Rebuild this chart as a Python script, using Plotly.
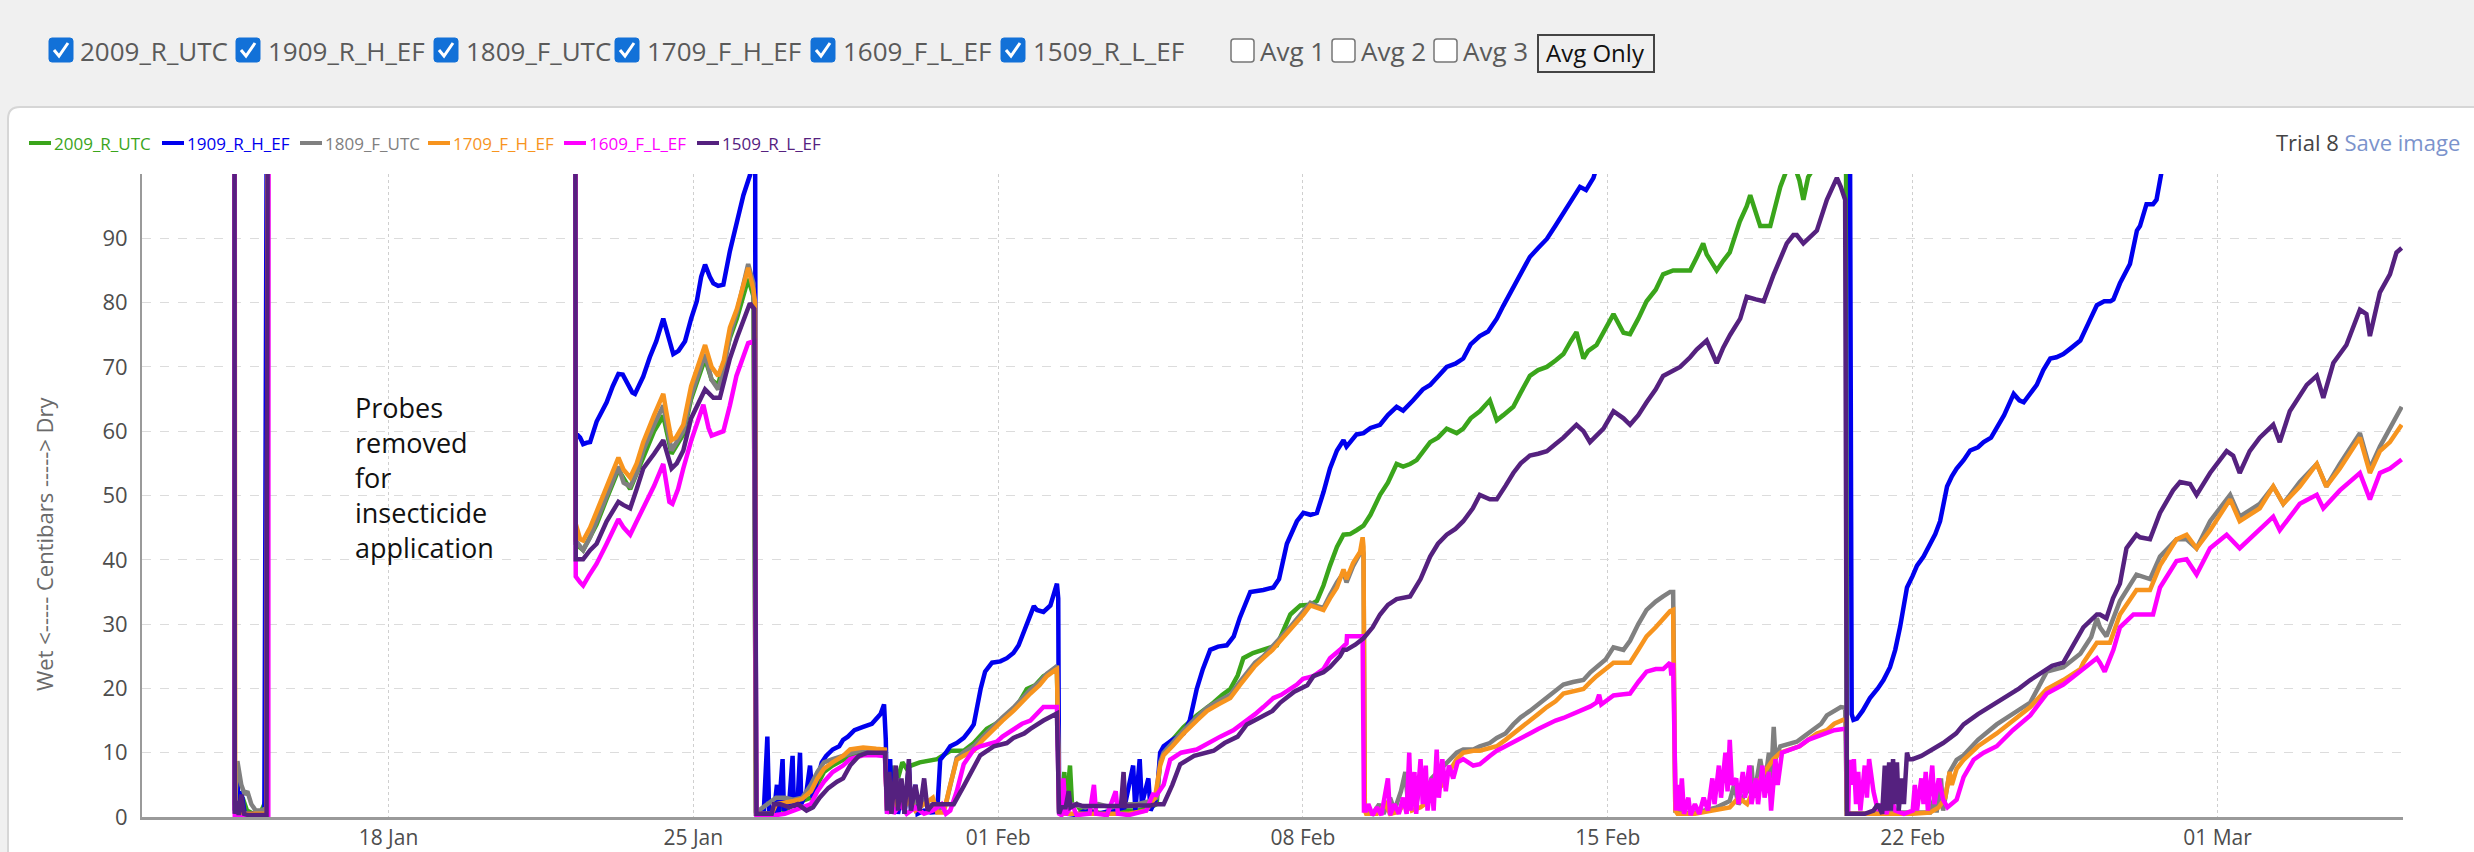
import pandas as pd
import plotly.graph_objects as go

W, H = 2474, 852
BASE = pd.Timestamp("2025-01-01")

# readings as (day counted from 1 Jan, centibars); values above 100 are off-scale (probe out of soil)
s2009 = [(14.46, 199), (14.47, 2), (14.55, 1), (14.65, 3), (14.75, 1), (14.9, 0.5), (15.05, 0.5), (15.15, 2), (15.22, 3.5), (15.25, 199),
         (22.28, 199), (22.30, 42.5), (22.47, 41.5), (22.63, 43.5), (22.78, 45.5), (23.01, 49.5), (23.28, 54), (23.55, 51), (23.85, 56),
         (24.1, 60), (24.31, 62.4), (24.50, 56.5), (24.77, 59.5), (24.95, 65), (25.27, 71.3), (25.42, 68), (25.57, 67.2), (25.84, 74.5),
         (26.0, 77.5), (26.26, 83.7), (26.38, 81), (26.44, 1),
         (26.50, 1), (26.7, 0.5), (26.9, 1.5), (27.1, 1), (27.3, 2), (27.5, 2.5), (27.7, 3), (27.85, 5), (28.0, 7), (28.2, 8), (28.44, 9),
         (28.6, 9.5), (28.9, 10), (29.2, 10.5), (29.4, 10.5), (29.45, 3), (29.55, 8), (29.6, 2), (29.7, 6), (29.8, 8.5), (29.9, 7.5),
         (30.0, 8), (30.2, 8.5), (30.4, 8.8), (30.6, 9), (30.9, 10.3), (31.21, 10.3), (31.44, 11.5), (31.74, 13.7), (31.95, 14.5),
         (32.2, 15.8), (32.45, 17.5), (32.66, 19.9), (32.85, 20.5), (33.04, 21.9), (33.2, 22.5), (33.35, 23.3), (33.40, 1),
         (33.45, 1), (33.52, 7), (33.56, 1), (33.65, 8), (33.7, 1.5), (33.8, 2), (33.9, 1), (34.1, 1), (34.4, 0.5), (34.8, 1), (35.2, 1),
         (35.5, 1.5), (35.64, 2), (35.72, 9), (35.80, 10.3), (36.0, 12), (36.26, 14), (36.56, 15.8), (36.7, 16.5), (36.95, 17.8),
         (37.15, 19), (37.33, 19.9), (37.5, 22), (37.63, 24.7), (37.85, 25.5), (38.09, 26), (38.25, 26.5), (38.40, 26.7), (38.55, 29),
         (38.71, 31.5), (38.94, 32.9), (39.17, 33), (39.32, 33.6), (39.47, 36), (39.62, 39.1), (39.78, 42), (39.93, 43.9), (40.08, 44),
         (40.23, 44.6), (40.39, 45.3), (40.55, 47), (40.77, 50.1), (40.95, 52), (41.15, 54.9), (41.3, 54.5), (41.46, 54.9), (41.61, 55.5),
         (41.92, 58.3), (42.1, 59), (42.30, 60.4), (42.53, 59.7), (42.68, 60.4), (42.85, 62), (43.06, 63.1), (43.29, 64.8), (43.45, 61.7),
         (43.6, 62.5), (43.83, 63.8), (44.0, 66), (44.21, 68.6), (44.40, 69.5), (44.60, 70), (44.80, 71), (44.98, 72), (45.15, 74),
         (45.28, 75.4), (45.44, 71.3), (45.55, 72.5), (45.74, 73.4), (45.95, 76), (46.13, 78.2), (46.36, 75.3), (46.51, 75.1),
         (46.7, 77.5), (46.89, 80.2), (47.1, 82), (47.27, 84.4), (47.50, 85), (47.66, 85), (47.89, 85), (48.04, 87), (48.19, 89.2),
         (48.27, 87.5), (48.50, 85), (48.65, 86.5), (48.80, 87.8), (49.03, 92.6), (49.19, 95), (49.27, 96.7), (49.40, 94), (49.50, 91.9),
         (49.73, 91.9), (49.85, 95), (49.96, 98), (50.1, 100.5), (50.25, 102), (50.40, 99), (50.49, 96), (50.6, 99.5), (50.72, 101),
         (51.0, 104), (51.3, 106), (51.47, 107), (51.49, 1), (51.55, 0.5)]

s1909 = [(14.46, 199), (14.47, 1), (14.52, 8.5), (14.56, 1), (14.62, 4), (14.7, 0.5), (14.85, 0.5), (15.0, 0.5), (15.15, 0.7), (15.25, 199),
         (22.28, 199), (22.30, 59.7), (22.40, 59.0), (22.47, 58.0), (22.55, 58.2), (22.63, 58.3), (22.78, 61.5), (23.01, 64.5), (23.15, 67),
         (23.28, 68.9), (23.38, 68.8), (23.47, 67.5), (23.6, 66), (23.66, 65.8), (23.85, 68.5), (24.0, 71.5), (24.15, 74), (24.31, 77.5),
         (24.45, 74), (24.54, 72), (24.66, 72.5), (24.81, 74), (24.95, 77.5), (25.08, 80.2), (25.18, 84), (25.27, 85.9), (25.38, 84),
         (25.46, 83), (25.57, 82.6), (25.69, 82.8), (25.84, 88), (25.99, 92), (26.15, 96.7), (26.30, 99.8), (26.38, 102), (26.42, 104),
         (26.44, 0.5),
         (26.50, 0.5), (26.62, 1), (26.70, 12.5), (26.74, 1), (26.85, 0.5), (26.92, 5), (26.96, 0.5), (27.05, 9), (27.08, 1), (27.2, 2),
         (27.28, 9.5), (27.31, 1.5), (27.40, 3), (27.45, 10), (27.48, 2), (27.6, 4), (27.68, 8), (27.74, 3), (27.85, 6), (27.95, 8.5),
         (28.05, 9.5), (28.2, 10.5), (28.35, 11), (28.44, 12), (28.55, 12.5), (28.7, 13.5), (28.9, 14), (29.1, 14.5), (29.3, 16),
         (29.38, 17.5), (29.42, 12), (29.45, 0.5), (29.52, 9), (29.56, 0.5), (29.65, 7), (29.7, 0.5), (29.8, 4), (29.85, 0.5), (29.95, 8),
         (30.0, 1), (30.1, 5), (30.15, 0.5), (30.3, 1), (30.45, 0.7), (30.6, 0.8), (30.67, 8.9), (30.8, 10), (30.9, 11), (31.05, 11.5),
         (31.21, 12.3), (31.35, 13.5), (31.44, 14.4), (31.60, 20), (31.70, 22.6), (31.86, 24), (32.05, 24.2), (32.20, 24.7), (32.35, 25.5),
         (32.47, 26.7), (32.6, 29), (32.74, 31.2), (32.82, 32.8), (32.89, 32.2), (33.04, 31.9), (33.20, 32.9), (33.35, 36.3), (33.38, 34),
         (33.40, 1),
         (33.45, 1), (33.6, 0.5), (33.8, 0.3), (34.0, 1), (34.3, 0.5), (34.6, 1), (34.9, 1.5), (35.1, 8), (35.15, 1), (35.25, 9), (35.3, 2),
         (35.45, 6), (35.5, 1), (35.64, 3), (35.72, 10), (35.80, 11), (36.0, 12), (36.26, 13), (36.4, 15), (36.56, 19.9), (36.7, 23),
         (36.87, 26), (37.05, 26.5), (37.25, 26.7), (37.41, 28.1), (37.55, 31), (37.71, 33.6), (37.79, 35), (38.09, 35.3), (38.32, 35.7),
         (38.45, 37), (38.63, 42.5), (38.86, 46), (39.01, 47.3), (39.17, 47), (39.32, 47.3), (39.47, 50.5), (39.62, 54.2), (39.78, 57),
         (39.93, 58.6), (40.0, 57.6), (40.23, 59.5), (40.39, 59.7), (40.55, 60.5), (40.77, 61), (40.95, 62.5), (41.15, 63.8), (41.3, 63.2),
         (41.53, 64.8), (41.75, 66.5), (41.92, 67.2), (42.1, 68.5), (42.30, 70), (42.5, 70.5), (42.68, 71.3), (42.85, 73.5), (43.06, 74.8),
         (43.25, 75.5), (43.45, 77.5), (43.6, 79.5), (43.83, 82.3), (44.0, 84.5), (44.21, 87.1), (44.4, 88.5), (44.60, 89.9), (44.8, 92),
         (44.98, 94), (45.15, 96), (45.36, 98), (45.5, 97.5), (45.67, 99.4), (45.74, 101), (46.0, 104), (47.0, 110), (48.0, 115),
         (49.0, 120), (50.0, 125), (51.0, 130), (51.55, 132), (51.60, 16),
         (51.64, 15.1), (51.72, 15.3), (51.85, 16.5), (52.02, 18.5), (52.2, 20), (52.33, 21.3), (52.48, 23.3), (52.6, 26), (52.71, 29.5),
         (52.87, 35.7), (53.0, 37.5), (53.10, 39.1), (53.25, 40.5), (53.40, 42.5), (53.52, 44), (53.63, 46), (53.79, 51.4), (53.9, 53),
         (54.01, 54.2), (54.17, 55.5), (54.32, 57), (54.5, 57.5), (54.63, 58.3), (54.8, 59), (54.93, 60.4), (55.1, 62.5), (55.32, 65.8),
         (55.45, 64.8), (55.55, 64.5), (55.70, 66), (55.85, 67.2), (56.0, 69.5), (56.16, 71.3), (56.3, 71.5), (56.46, 72), (56.65, 73),
         (56.85, 74.1), (57.05, 77), (57.23, 79.6), (57.40, 80.2), (57.54, 80.2), (57.61, 80.5), (57.76, 83), (57.99, 86), (58.15, 91.2),
         (58.22, 91.9), (58.37, 95.3), (58.52, 95.3), (58.60, 96), (58.72, 100.5), (59.0, 104), (60.0, 110), (61.0, 116), (62.0, 122),
         (63.0, 128), (64.25, 135)]

s1809 = [(14.46, 199), (14.47, 1), (14.53, 8.7), (14.62, 5), (14.7, 3.5), (14.76, 4), (14.85, 2), (14.95, 1), (15.1, 1), (15.2, 1.5), (15.25, 199),
         (22.28, 199), (22.30, 43), (22.40, 42), (22.47, 41.5), (22.63, 43.5), (22.78, 46), (23.01, 50), (23.28, 54.5), (23.40, 52),
         (23.55, 51.4), (23.7, 53.5), (23.85, 57), (24.1, 61), (24.31, 64), (24.50, 57), (24.77, 60), (24.95, 65.5), (25.27, 72),
         (25.42, 68), (25.57, 66.5), (25.7, 69.5), (25.84, 75), (26.0, 78.5), (26.26, 86), (26.38, 83), (26.44, 0.5),
         (26.50, 1), (26.8, 2.5), (26.9, 3), (27.1, 3), (27.3, 2.7), (27.5, 3), (27.7, 5), (27.85, 7), (28.0, 8.5), (28.2, 9), (28.44, 9.5),
         (28.6, 10), (28.9, 10.5), (29.2, 10.5), (29.4, 10.3), (29.45, 1), (29.55, 5), (29.6, 1), (29.7, 6), (29.8, 2), (29.9, 4),
         (30.0, 1.5), (30.2, 3), (30.4, 2), (30.6, 1), (30.8, 2), (30.95, 6), (31.05, 9.2), (31.2, 10), (31.44, 11), (31.65, 12.5),
         (31.89, 14.2), (32.1, 15.5), (32.35, 17), (32.55, 18.5), (32.74, 19.8), (32.95, 21), (33.12, 22.3), (33.3, 23.2), (33.35, 23.5),
         (33.40, 1.5),
         (33.45, 1.5), (33.7, 2), (34.0, 1.5), (34.3, 2), (34.6, 1.5), (34.9, 2), (35.2, 2), (35.5, 2.5), (35.64, 3), (35.72, 8.5),
         (35.80, 10), (36.0, 11.5), (36.26, 13.5), (36.56, 15.5), (36.8, 17), (37.05, 18), (37.33, 19), (37.55, 21), (37.71, 22.5),
         (37.9, 24), (38.09, 25), (38.3, 26.5), (38.48, 27.8), (38.7, 29.5), (38.86, 30.8), (39.01, 32), (39.17, 33.3), (39.32, 32.8),
         (39.47, 32.5), (39.62, 34.5), (39.78, 36.5), (39.93, 38), (40.0, 36.5), (40.15, 39), (40.31, 41), (40.36, 42), (40.39, 41),
         (40.42, 2),
         (40.45, 1), (40.6, 0.5), (40.75, 2), (40.85, 0.5), (41.0, 3), (41.1, 1), (41.25, 4), (41.35, 7), (41.40, 3), (41.5, 6), (41.6, 2),
         (41.7, 5), (41.8, 3), (41.95, 6), (42.1, 7), (42.25, 8), (42.4, 9), (42.53, 10), (42.68, 10.5), (42.91, 10.5), (43.06, 11),
         (43.29, 11.5), (43.45, 12.3), (43.65, 13), (43.83, 14.4), (44.0, 15.5), (44.21, 16.5), (44.4, 17.5), (44.60, 18.5), (44.8, 19.5),
         (44.98, 20.6), (45.2, 21), (45.44, 21.3), (45.6, 22.5), (45.74, 23.3), (45.95, 24.5), (46.13, 26.4), (46.36, 26), (46.51, 27.4),
         (46.7, 30), (46.89, 32.2), (47.1, 33.5), (47.27, 34.3), (47.43, 35), (47.50, 35), (47.55, 1),
         (47.6, 1), (47.9, 0.5), (48.2, 1), (48.5, 1.5), (48.8, 2.5), (48.9, 5), (49.0, 2), (49.2, 4), (49.3, 8), (49.35, 3), (49.5, 9),
         (49.6, 5), (49.7, 10), (49.75, 6), (49.81, 14), (49.85, 9), (49.96, 11), (50.2, 11.5), (50.34, 11.7), (50.5, 12.5), (50.72, 13.7),
         (50.9, 14.5), (51.03, 15.8), (51.2, 16.5), (51.35, 17.1), (51.45, 17), (51.49, 0.5),
         (51.52, 0.5), (52.0, 0.5), (52.5, 0.7), (53.0, 0.7), (53.4, 0.7), (53.5, 3), (53.55, 0.7), (53.65, 6), (53.7, 1), (53.85, 7),
         (54.01, 8.9), (54.17, 9.6), (54.5, 12), (54.93, 14.4), (55.3, 16), (55.70, 17.8), (56.08, 22.6), (56.46, 23.3), (56.85, 25.4),
         (57.1, 28), (57.23, 30.9), (57.30, 29.5), (57.45, 28.1), (57.76, 33.6), (58.14, 37.7), (58.45, 37), (58.68, 40.5), (59.06, 43.2),
         (59.29, 43.2), (59.52, 41.8), (59.83, 46), (60.29, 50.1), (60.51, 46.7), (60.97, 48.7), (61.28, 51.4), (61.51, 48.7),
         (61.89, 52.1), (62.28, 54.9), (62.50, 51.4), (62.81, 54.9), (63.27, 59.7), (63.50, 54.2), (63.73, 57.6), (63.96, 60.4),
         (64.23, 63.8)]

s1709 = [(14.46, 199), (14.48, 0.5), (14.55, 2), (14.6, 0.5), (14.8, 0.5), (15.2, 0.5), (15.25, 199),
         (22.28, 199), (22.30, 45.6), (22.40, 43.2), (22.47, 43.0), (22.63, 45), (22.78, 47.5), (23.01, 51.5), (23.28, 55.9), (23.40, 54),
         (23.55, 52.8), (23.7, 55), (23.85, 58.3), (24.1, 62.5), (24.31, 65.8), (24.38, 63), (24.50, 58.6), (24.6, 59), (24.77, 61),
         (24.95, 67), (25.27, 73.4), (25.42, 70), (25.57, 68.6), (25.7, 71), (25.84, 76.1), (26.0, 79), (26.26, 85.4), (26.38, 82),
         (26.42, 80), (26.44, 0.5),
         (26.50, 0.5), (26.8, 0.5), (26.9, 2), (27.1, 2.2), (27.3, 2.5), (27.5, 2.8), (27.7, 4), (27.85, 6), (28.0, 7.5), (28.2, 8.5),
         (28.44, 9.5), (28.6, 10.5), (28.9, 10.8), (29.2, 10.6), (29.4, 10.5), (29.45, 1), (29.55, 4), (29.65, 1), (29.75, 5), (29.85, 1.5),
         (29.95, 3), (30.1, 1), (30.3, 2), (30.5, 3), (30.6, 0.7), (30.75, 0.7), (30.9, 5), (31.05, 8.9), (31.2, 9.5), (31.44, 10.3),
         (31.65, 12), (31.89, 13.7), (32.1, 15), (32.35, 16.5), (32.55, 18), (32.74, 19.2), (32.95, 20.5), (33.12, 21.9), (33.3, 22.8),
         (33.35, 23), (33.40, 1),
         (33.45, 0.5), (34.0, 0.5), (34.5, 0.5), (35.0, 0.5), (35.4, 1), (35.6, 3), (35.72, 8), (35.80, 9.6), (36.0, 11), (36.26, 13),
         (36.56, 15), (36.8, 16.5), (37.05, 17.5), (37.33, 18.5), (37.55, 20.5), (37.71, 21.9), (37.9, 23.5), (38.09, 24.7), (38.3, 26),
         (38.48, 27.4), (38.7, 29), (38.86, 30.2), (39.01, 31.5), (39.17, 32.9), (39.32, 32.5), (39.47, 32.2), (39.62, 34), (39.78, 35.7),
         (39.93, 38.5), (40.00, 37), (40.15, 39.5), (40.31, 41.2), (40.37, 43.5), (40.39, 42), (40.42, 1),
         (40.45, 0.5), (40.7, 0.5), (40.9, 2), (41.0, 0.5), (41.2, 0.8), (41.4, 3), (41.5, 1), (41.7, 1.5), (41.9, 2.5), (42.05, 4),
         (42.2, 5), (42.35, 7), (42.53, 9), (42.68, 10), (42.91, 10.3), (43.06, 10.3), (43.29, 10.8), (43.45, 11), (43.65, 12), (43.83, 13),
         (44.0, 14), (44.21, 15), (44.4, 16), (44.60, 17.1), (44.8, 18), (44.98, 19.2), (45.2, 19.5), (45.44, 19.9), (45.6, 21),
         (45.74, 21.9), (45.95, 23), (46.13, 24), (46.36, 24), (46.51, 24), (46.7, 26), (46.89, 28.1), (47.1, 29.5), (47.27, 30.9),
         (47.43, 32), (47.50, 32.2), (47.55, 1),
         (47.6, 0.5), (48.0, 0.5), (48.4, 1), (48.8, 1.5), (49.0, 3), (49.2, 2), (49.4, 5), (49.6, 7), (49.8, 9), (49.96, 10), (50.2, 10.5),
         (50.4, 11), (50.6, 12), (50.8, 13), (51.03, 13.5), (51.2, 14.5), (51.4, 15.1), (51.47, 15), (51.49, 0.5),
         (51.52, 0.5), (52.0, 0.5), (52.5, 0.5), (53.0, 0.5), (53.4, 0.7), (53.6, 1.5), (53.75, 3), (53.85, 7), (53.9, 5), (54.01, 7.5),
         (54.17, 8.9), (54.5, 11), (54.93, 13), (55.3, 15), (55.70, 17.1), (56.08, 19.9), (56.46, 21.3), (56.85, 23), (56.92, 24),
         (57.23, 27.1), (57.30, 27.1), (57.53, 27.1), (57.76, 31.5), (58.14, 35.3), (58.45, 35.3), (58.68, 39.1), (59.06, 43.2),
         (59.29, 43.9), (59.52, 41.8), (59.83, 44.6), (60.29, 49.4), (60.51, 46), (60.97, 48), (61.28, 51.4), (61.51, 48.7), (61.89, 51.4),
         (62.28, 54.9), (62.50, 51.4), (62.81, 54.2), (63.27, 59), (63.50, 53.5), (63.73, 56.9), (63.96, 58.3), (64.23, 61)]

s1609 = [(14.46, 199), (14.47, 0), (15.24, 0), (15.25, 199),
         (22.28, 199), (22.30, 37.4), (22.40, 36.5), (22.47, 36), (22.6, 37.5), (22.78, 39.4), (23.01, 42.5), (23.28, 46.3), (23.40, 45),
         (23.55, 43.9), (23.7, 46), (23.85, 48), (24.1, 51.5), (24.31, 54.9), (24.45, 49), (24.52, 48.7), (24.65, 51), (24.77, 54.2),
         (24.95, 58.5), (25.23, 64.1), (25.35, 60.5), (25.42, 59.3), (25.69, 60), (25.84, 64), (25.99, 68.6), (26.26, 73.7), (26.40, 74),
         (26.45, 0),
         (26.50, 0), (26.9, 0.3), (27.1, 0.5), (27.3, 1), (27.5, 1.5), (27.7, 2), (27.85, 4), (28.0, 5.5), (28.2, 7), (28.44, 8), (28.6, 9),
         (28.9, 9.6), (29.2, 9.6), (29.4, 9.5), (29.45, 0.5), (29.55, 3), (29.6, 0.5), (29.75, 2), (29.9, 0.5), (30.1, 1.5), (30.3, 0.5),
         (30.5, 1), (30.7, 2), (30.8, 0.5), (30.9, 1), (31.05, 4), (31.21, 8.2), (31.44, 10.5), (31.59, 11), (31.97, 11.7), (32.1, 12.5),
         (32.35, 13.7), (32.55, 14.5), (32.74, 15), (32.9, 16), (33.04, 17.1), (33.35, 17.1), (33.40, 0.5),
         (33.45, 0.3), (33.5, 6), (33.55, 0.3), (33.7, 2), (33.8, 0.3), (34.1, 0.5), (34.2, 5), (34.25, 0.5), (34.5, 0.3), (34.7, 4),
         (34.75, 0.5), (35.0, 0.3), (35.4, 1), (35.55, 3.5), (35.64, 3.4), (35.8, 5), (35.95, 8.9), (36.2, 10), (36.56, 10.5),
         (36.87, 11.7), (37.1, 12.5), (37.4, 13.5), (37.71, 15), (37.9, 16), (38.09, 17.1), (38.32, 18.5), (38.5, 19), (38.86, 20.6),
         (39.0, 21.5), (39.24, 21.9), (39.47, 23), (39.62, 24.7), (39.85, 26), (40.0, 27), (40.01, 28.1), (40.2, 28.1), (40.37, 28.1),
         (40.40, 1),
         (40.45, 1), (40.5, 2), (40.6, 0.3), (40.7, 1.5), (40.8, 0.3), (40.95, 6), (41.0, 0.3), (41.1, 2), (41.2, 0.5), (41.3, 3),
         (41.38, 0.5), (41.44, 10), (41.48, 1), (41.56, 7), (41.6, 0.5), (41.7, 9), (41.75, 2), (41.82, 8), (41.86, 1), (41.95, 6),
         (42.0, 1), (42.07, 10.5), (42.12, 3), (42.2, 9), (42.28, 4), (42.35, 8), (42.45, 6), (42.55, 8.5), (42.68, 9), (42.91, 8),
         (43.06, 8.2), (43.29, 9.5), (43.45, 10.3), (43.65, 11), (43.83, 11.7), (44.0, 12.3), (44.21, 13), (44.4, 13.7), (44.60, 14.4),
         (44.8, 15), (44.98, 15.4), (45.2, 16), (45.36, 16.5), (45.6, 17.2), (45.74, 17.8), (45.8, 19), (45.85, 17.5), (46.13, 18.9),
         (46.36, 19.1), (46.51, 19.2), (46.7, 21), (46.89, 22.6), (47.1, 23), (47.27, 23), (47.43, 24), (47.46, 22), (47.50, 24),
         (47.56, 1),
         (47.6, 5), (47.65, 1), (47.7, 6), (47.75, 0.5), (47.85, 3), (47.9, 0.3), (48.0, 2), (48.1, 0.5), (48.2, 3), (48.3, 1), (48.4, 6),
         (48.45, 2), (48.55, 8), (48.6, 3), (48.7, 10), (48.75, 4), (48.8, 12), (48.85, 5), (48.95, 6), (49.0, 2), (49.1, 7), (49.15, 3),
         (49.25, 8), (49.3, 2), (49.4, 6), (49.45, 2), (49.55, 8), (49.6, 3), (49.7, 7), (49.75, 1), (49.85, 9), (49.9, 5), (50.0, 10),
         (50.2, 10.5), (50.4, 11), (50.6, 12), (50.8, 12.5), (51.0, 13), (51.2, 13.5), (51.4, 13.7), (51.47, 13.7), (51.50, 1),
         (51.52, 1), (51.55, 8.9), (51.6, 5), (51.65, 9), (51.7, 2), (51.75, 7), (51.8, 1), (51.9, 8), (51.95, 3), (52.0, 9), (52.1, 4),
         (52.2, 1), (52.3, 2), (52.4, 0.5), (52.5, 3), (52.6, 1), (52.8, 0.5), (53.0, 1), (53.05, 5), (53.1, 1), (53.2, 6), (53.25, 2),
         (53.3, 7), (53.35, 1), (53.45, 8), (53.5, 2), (53.6, 6), (53.7, 2.7), (53.8, 1.5), (54.01, 2.7), (54.17, 6.2), (54.4, 8.9),
         (54.63, 10), (54.93, 11), (55.3, 13.5), (55.70, 15.8), (56.08, 19.2), (56.46, 20.6), (56.85, 22.6), (57.23, 24.7), (57.30, 24),
         (57.41, 22.6), (57.61, 26), (57.76, 29.5), (58.07, 31.5), (58.52, 31.5), (58.68, 35.7), (59.06, 39.8), (59.29, 40.1),
         (59.52, 37.7), (59.83, 41.8), (60.21, 43.9), (60.51, 41.8), (60.97, 44.6), (61.28, 46.7), (61.43, 44.6), (61.89, 48.7),
         (62.28, 50.1), (62.43, 48), (62.81, 50.8), (63.27, 53.5), (63.50, 49.4), (63.73, 53.5), (63.96, 54.2), (64.23, 55.6)]

s1509 = [(14.46, 199), (14.47, 0.5), (14.52, 2.5), (14.56, 0.3), (14.62, 3.5), (14.68, 0.5), (14.78, 0.3), (15.0, 0.3), (15.2, 0.3), (15.25, 199),
         (22.28, 199), (22.30, 40.1), (22.40, 40), (22.47, 40.1), (22.63, 41.5), (22.78, 42.5), (23.01, 46), (23.28, 49), (23.40, 48.5),
         (23.55, 48), (23.7, 51), (23.85, 54.2), (24.1, 56.5), (24.31, 58.6), (24.5, 54.2), (24.62, 55), (24.77, 57), (24.95, 62),
         (25.27, 66.5), (25.46, 65.2), (25.61, 65.2), (25.84, 71.3), (26.0, 74.5), (26.30, 79.9), (26.40, 79), (26.45, 0.5),
         (26.50, 0.5), (26.8, 0.5), (26.85, 2), (27.0, 2), (27.2, 1.5), (27.4, 2), (27.6, 1), (27.75, 1.5), (27.9, 3), (28.1, 4.5),
         (28.3, 5.5), (28.44, 6), (28.6, 8), (28.8, 9.5), (29.0, 10), (29.2, 10), (29.4, 10), (29.45, 1), (29.5, 7), (29.55, 0.5),
         (29.65, 8), (29.7, 1), (29.78, 6), (29.85, 0.5), (29.95, 9), (30.0, 1), (30.1, 5), (30.2, 1), (30.3, 6), (30.38, 1), (30.5, 2),
         (30.7, 2), (30.98, 2), (31.21, 4.8), (31.44, 7.5), (31.59, 9.6), (31.9, 11), (32.2, 11.5), (32.35, 12.3), (32.6, 13),
         (32.74, 13.7), (33.04, 15), (33.35, 16.1), (33.40, 0.5),
         (33.45, 1.5), (33.55, 1.5), (33.62, 4), (33.66, 1.5), (33.8, 2), (33.95, 1.7), (34.2, 1.7), (34.6, 1.7), (34.82, 1.7), (34.88, 7),
         (34.92, 1.7), (35.2, 1.8), (35.5, 1.8), (35.64, 2), (35.80, 2), (36.0, 5), (36.18, 8.2), (36.5, 9.5), (36.95, 10.3), (37.2, 11.5),
         (37.5, 12.5), (37.71, 14.4), (38.0, 15.5), (38.3, 16.5), (38.48, 17.8), (38.8, 19.5), (39.1, 20.5), (39.24, 21.9), (39.47, 22.5),
         (39.62, 23.3), (39.85, 25), (39.93, 26), (40.0, 26), (40.2, 26.8), (40.39, 27.8), (40.6, 29.5), (40.77, 31.5), (40.95, 33),
         (41.15, 33.9), (41.46, 34.3), (41.7, 37), (41.92, 40.5), (42.1, 42.5), (42.30, 43.9), (42.5, 44.8), (42.68, 46), (42.9, 48),
         (43.06, 50.1), (43.29, 49.4), (43.45, 49.4), (43.65, 51.5), (43.83, 53.5), (44.0, 55), (44.21, 56.2), (44.40, 56.5), (44.60, 56.9),
         (44.80, 58), (44.98, 59), (45.28, 61), (45.44, 60), (45.59, 58.3), (45.75, 59.5), (45.90, 60.4), (46.13, 63.1), (46.36, 62),
         (46.51, 61), (46.7, 62.5), (46.89, 64.5), (47.1, 66.5), (47.27, 68.6), (47.50, 69.5), (47.66, 70), (47.89, 71.5), (48.04, 72.7),
         (48.27, 74.1), (48.50, 70.6), (48.65, 73), (48.81, 75), (49.04, 77.5), (49.19, 80.9), (49.40, 80.5), (49.58, 80.2), (49.81, 84.4),
         (50.11, 89.2), (50.26, 90.5), (50.34, 90.5), (50.49, 89.2), (50.60, 90), (50.80, 91.2), (51.03, 96), (51.26, 99.4), (51.35, 98),
         (51.45, 96), (51.49, 0.5),
         (51.52, 0.5), (51.7, 0.5), (51.9, 0.5), (52.1, 1), (52.2, 2), (52.30, 0.5), (52.36, 8), (52.40, 1), (52.46, 8.5), (52.50, 1),
         (52.55, 9), (52.60, 2), (52.64, 8.5), (52.68, 1), (52.75, 6), (52.80, 2), (52.87, 10), (52.91, 9), (53.0, 9), (53.2, 9.5),
         (53.40, 10.3), (53.7, 11.5), (54.0, 13), (54.17, 14.4), (54.5, 16), (54.93, 17.8), (55.2, 19), (55.45, 20), (55.70, 21.3),
         (56.0, 22.5), (56.2, 23.5), (56.46, 24), (56.7, 27), (56.92, 29.5), (57.23, 31.5), (57.30, 31.5), (57.45, 30.9), (57.6, 34),
         (57.76, 36.3), (57.91, 41.8), (58.14, 43.9), (58.22, 43.5), (58.45, 43.2), (58.68, 47.3), (58.98, 50.8), (59.14, 52.1),
         (59.37, 51.8), (59.52, 50.1), (59.83, 53.5), (60.21, 56.9), (60.36, 56.2), (60.51, 53.5), (60.74, 56.9), (60.97, 59), (61.28, 61),
         (61.43, 58.3), (61.66, 63.1), (62.05, 67.2), (62.28, 68.6), (62.43, 65.2), (62.66, 70.6), (62.96, 73.4), (63.27, 78.9),
         (63.42, 78.2), (63.50, 74.8), (63.73, 81.6), (63.96, 84.4), (64.11, 87.8), (64.23, 88.5)]

series_names = ["2009_R_UTC", "1909_R_H_EF", "1809_F_UTC", "1709_F_H_EF", "1609_F_L_EF", "1509_R_L_EF"]
series_data = [s2009, s1909, s1809, s1709, s1609, s1509]
series_colors = ["#3aa51b", "#0000ee", "#808080", "#f7941e", "#ff00ff", "#55217f"]

avg_names = ["Avg 1", "Avg 2", "Avg 3"]
x_ticks = ["2025-01-18", "2025-01-25", "2025-02-01", "2025-02-08", "2025-02-15", "2025-02-22", "2025-03-01"]
y_ticks = [0, 10, 20, 30, 40, 50, 60, 70, 80, 90]
x_span = (12.34, 64.26)
note_text = "Probes<br>removed<br>for<br>insecticide<br>application"


def day_to_date(d):
    return BASE + pd.Timedelta(days=d - 1)


def X(px):
    return px / W


def Y(py):
    return 1 - py / H


def rrect(x0, y0, x1, y1, r):
    # rounded rectangle path in paper coordinates from pixel corners
    return (f"M {X(x0 + r)},{Y(y0)} L {X(x1 - r)},{Y(y0)} Q {X(x1)},{Y(y0)} {X(x1)},{Y(y0 + r)} "
            f"L {X(x1)},{Y(y1 - r)} Q {X(x1)},{Y(y1)} {X(x1 - r)},{Y(y1)} L {X(x0 + r)},{Y(y1)} "
            f"Q {X(x0)},{Y(y1)} {X(x0)},{Y(y1 - r)} L {X(x0)},{Y(y0 + r)} Q {X(x0)},{Y(y0)} {X(x0 + r)},{Y(y0)} Z")


fig = go.Figure()
for name, data, color in zip(series_names, series_data, series_colors):
    days, vals = zip(*data)
    fig.add_trace(go.Scatter(x=[day_to_date(d) for d in days], y=list(vals), mode="lines", name=name,
                             line=dict(color=color, width=4.5), showlegend=False))

FONT = "Open Sans"
shapes = []
annotations = []

# white chart panel under the grey control bar
shapes.append(dict(type="path", xref="paper", yref="paper", layer="below",
                   path=(f"M {X(8)},{Y(880)} L {X(8)},{Y(119)} Q {X(8)},{Y(107)} {X(20)},{Y(107)} "
                         f"L {X(2500)},{Y(107)} L {X(2500)},{Y(880)} Z"),
                   fillcolor="white", line=dict(color="#d6d6d6", width=2)))

# ticked checkboxes for the six probes
box_x = [49, 236, 434, 615, 811, 1001]
text_x = [78, 266, 464, 645, 841, 1031]
for bx, tx, name in zip(box_x, text_x, series_names):
    shapes.append(dict(type="path", xref="paper", yref="paper", path=rrect(bx, 38, bx + 24, 62, 3),
                       fillcolor="#1271d8", line=dict(color="#1271d8", width=1)))
    shapes.append(dict(type="path", xref="paper", yref="paper",
                       path=f"M {X(bx + 5)},{Y(50)} L {X(bx + 10)},{Y(56)} L {X(bx + 19)},{Y(43)}",
                       line=dict(color="white", width=3)))
    annotations.append(dict(x=X(tx), y=Y(51), xref="paper", yref="paper", text=name, showarrow=False,
                            xanchor="left", yanchor="middle", font=dict(family=FONT, size=26, color="#5a5a5a")))

# empty checkboxes for the averages
avg_box_x = [1231, 1332, 1434]
for bx, name in zip(avg_box_x, avg_names):
    shapes.append(dict(type="path", xref="paper", yref="paper", path=rrect(bx, 39, bx + 23, 62, 3),
                       fillcolor="white", line=dict(color="#767676", width=1.5)))
    annotations.append(dict(x=X(bx + 27), y=Y(51), xref="paper", yref="paper", text=name, showarrow=False,
                            xanchor="left", yanchor="middle", font=dict(family=FONT, size=26, color="#5a5a5a")))

shapes.append(dict(type="rect", xref="paper", yref="paper", x0=X(1538), x1=X(1654), y0=Y(72), y1=Y(35),
                   fillcolor="#efefef", line=dict(color="#444444", width=2)))
annotations.append(dict(x=X(1596), y=Y(53), xref="paper", yref="paper", text="Avg Only", showarrow=False,
                        xanchor="center", yanchor="middle", font=dict(family=FONT, size=24, color="#111111")))

# chart legend row
dash_x = [29, 162, 300, 428, 564, 697]
for dx, name, color in zip(dash_x, series_names, series_colors):
    shapes.append(dict(type="line", xref="paper", yref="paper", x0=X(dx), x1=X(dx + 22), y0=Y(143), y1=Y(143),
                       line=dict(color=color, width=4)))
    annotations.append(dict(x=X(dx + 23), y=Y(143), xref="paper", yref="paper", text=name, showarrow=False,
                            xanchor="left", yanchor="middle", font=dict(family=FONT, size=17, color=color)))

annotations.append(dict(x=X(2462), y=Y(142), xref="paper", yref="paper",
                        text="Trial 8 <span style='color:#7b93cc'>Save image</span>", showarrow=False,
                        xanchor="right", yanchor="middle", font=dict(family=FONT, size=22, color="#444444")))

annotations.append(dict(x=X(44), y=Y(544), xref="paper", yref="paper", text="Wet <----- Centibars -----> Dry",
                        showarrow=False, textangle=-90, xanchor="center", yanchor="middle",
                        font=dict(family=FONT, size=22, color="#6a6a6a")))

annotations.append(dict(x=X(353), y=Y(477), xref="paper", yref="paper", text=note_text, showarrow=False,
                        xanchor="left", yanchor="middle", align="left",
                        font=dict(family=FONT, size=27, color="#111111")))

fig.update_layout(
    width=W, height=H,
    margin=dict(l=0, r=0, t=0, b=0),
    paper_bgcolor="#f0f0f0",
    plot_bgcolor="rgba(0,0,0,0)",
    font=dict(family=FONT),
    shapes=shapes,
    annotations=annotations,
    showlegend=False,
    xaxis=dict(
        domain=[X(142), X(2403)],
        range=[day_to_date(x_span[0]), day_to_date(x_span[1])],
        tickvals=x_ticks, tickformat="%d %b",
        showgrid=True, gridcolor="#cfcfcf", griddash="dot", gridwidth=1,
        showline=True, linecolor="#9a9a9a", linewidth=3,
        ticks="", ticklabelstandoff=0, automargin=False,
        tickfont=dict(family=FONT, size=21, color="#4d4d4d"),
        zeroline=False,
    ),
    yaxis=dict(
        domain=[Y(817), Y(174)],
        range=[0, 100],
        tickvals=y_ticks,
        showgrid=True, gridcolor="#dcdcdc", griddash="dash", gridwidth=1,
        showline=True, linecolor="#9a9a9a", linewidth=2,
        ticks="", ticklabelstandoff=8, automargin=False,
        tickfont=dict(family=FONT, size=22, color="#4d4d4d"),
        zeroline=False,
    ),
)

# the page body has a default 8px margin; drop it so the figure fills the window exactly
fig.write_html("out.html", config={"displayModeBar": False},
               post_script="document.body.style.margin='0';")
